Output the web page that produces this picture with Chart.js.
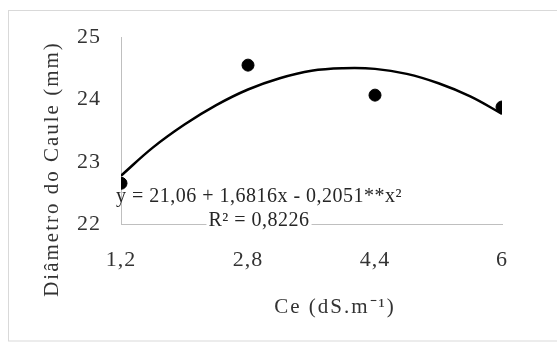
<!DOCTYPE html>
<html><head><meta charset="utf-8">
<script src="https://cdn.jsdelivr.net/npm/chart.js@4/dist/chart.umd.min.js"></script>
<style>html,body{margin:0;padding:0;background:#fff;overflow:hidden}#wrap{width:557px;height:345px;position:relative}</style>
</head><body><div id="wrap"><canvas id="c" width="557" height="345"></canvas></div>
<script>
// Observed data (stem diameter vs. salinity)
const ceValues = [1.2, 2.8, 4.4, 6];
const diametro = [22.66, 24.55, 24.07, 23.88];
// Fitted quadratic trendline
const trendX = [1.2, 1.6, 2.0, 2.4, 2.8, 3.2, 3.6, 4.0, 4.4, 4.8, 5.2, 5.6, 6.0];
const trendY = [22.78, 23.23, 23.60, 23.91, 24.16, 24.34, 24.46, 24.50, 24.49, 24.41, 24.26, 24.05, 23.77];
// Ticks
const xTickValues = [1.2, 2.8, 4.4, 6];
const xTickLabels = ['1,2', '2,8', '4,4', '6'];
const yTickValues = [22, 23, 24, 25];
// Texts
const yTitle = 'Diâmetro do Caule (mm)';
const xTitle = 'Ce (dS.m⁻¹)';
const equationText = 'y = 21,06 + 1,6816x - 0,2051**x²';
const r2Text = 'R² = 0,8226';

const SERIF = '"Liberation Serif", "Times New Roman", serif';

const decor = {
  id: 'decor',
  beforeDraw(chart) {
    const ctx = chart.ctx;
    ctx.save();
    ctx.fillStyle = '#ffffff';
    ctx.fillRect(0, 0, chart.width, chart.height);
    ctx.strokeStyle = '#d9d9d9';
    ctx.lineWidth = 1;
    ctx.strokeRect(8.5, 10.5, 600, 330.5);
    ctx.restore();
    ctx.letterSpacing = '1px';
  },
  afterDraw(chart) {
    const ctx = chart.ctx;
    // Axis titles
    ctx.save();
    ctx.font = '21px ' + SERIF;
    ctx.letterSpacing = '2px';
    ctx.fillStyle = '#333333';
    ctx.textAlign = 'center';
    ctx.textBaseline = 'middle';
    ctx.translate(52, 170);
    ctx.rotate(-Math.PI / 2);
    ctx.fillText(yTitle, 1, 0);
    ctx.restore();

    ctx.save();
    ctx.font = '21px ' + SERIF;
    ctx.letterSpacing = '2px';
    ctx.fillStyle = '#333333';
    ctx.textAlign = 'center';
    ctx.textBaseline = 'middle';
    ctx.fillText(xTitle, 335, 307);
    ctx.restore();

    // Trendline equation label
    ctx.save();
    ctx.font = '20px ' + SERIF;
    ctx.letterSpacing = '0.5px';
    ctx.textAlign = 'center';
    ctx.textBaseline = 'alphabetic';
    const w = ctx.measureText(r2Text).width;
    ctx.fillStyle = '#ffffff';
    ctx.fillRect(259 - w / 2 - 2, 211, w + 4, 18);
    ctx.fillStyle = '#262626';
    ctx.fillText(equationText, 259, 202);
    ctx.fillText(r2Text, 259, 226);
    ctx.restore();
    ctx.letterSpacing = '0px';
  }
};

new Chart(document.getElementById('c'), {
  type: 'scatter',
  data: {
    datasets: [
      {
        label: 'Diâmetro do Caule',
        data: ceValues.map((x, i) => ({x: x, y: diametro[i]})),
        pointRadius: 6,
        pointBorderWidth: 1,
        pointBackgroundColor: '#000000',
        pointBorderColor: '#000000',
        showLine: false
      },
      {
        label: 'Polinomial',
        data: trendX.map((x, i) => ({x: x, y: trendY[i]})),
        showLine: true,
        pointRadius: 0,
        borderColor: '#000000',
        borderWidth: 2.5,
        tension: 0.4,
        fill: false
      }
    ]
  },
  options: {
    responsive: false,
    animation: false,
    devicePixelRatio: 1,
    layout: {padding: {left: 0, top: 37, right: 55, bottom: 0}},
    plugins: {legend: {display: false}, tooltip: {enabled: false}},
    scales: {
      x: {
        type: 'linear',
        min: 1.2,
        max: 6,
        afterBuildTicks: (s) => { s.ticks = xTickValues.map(v => ({value: v})); },
        afterFit: (s) => { s.height = 120.5; },
        grid: {display: false, drawTicks: false},
        border: {display: true, color: '#bfbfbf', width: 1},
        ticks: {
          autoSkip: false,
          maxRotation: 0,
          padding: 23,
          color: '#333333',
          font: {family: SERIF, size: 22},
          callback: (v) => xTickLabels[xTickValues.indexOf(v)]
        }
      },
      y: {
        min: 22,
        max: 25,
        afterBuildTicks: (s) => { s.ticks = yTickValues.map(v => ({value: v})); },
        afterFit: (s) => { s.width = 121; },
        grid: {display: false, drawTicks: false},
        border: {display: true, color: '#bfbfbf', width: 1},
        ticks: {
          padding: 20,
          color: '#333333',
          font: {family: SERIF, size: 22},
          callback: (v) => String(v)
        }
      }
    }
  },
  plugins: [decor]
});
</script>
</body></html>
